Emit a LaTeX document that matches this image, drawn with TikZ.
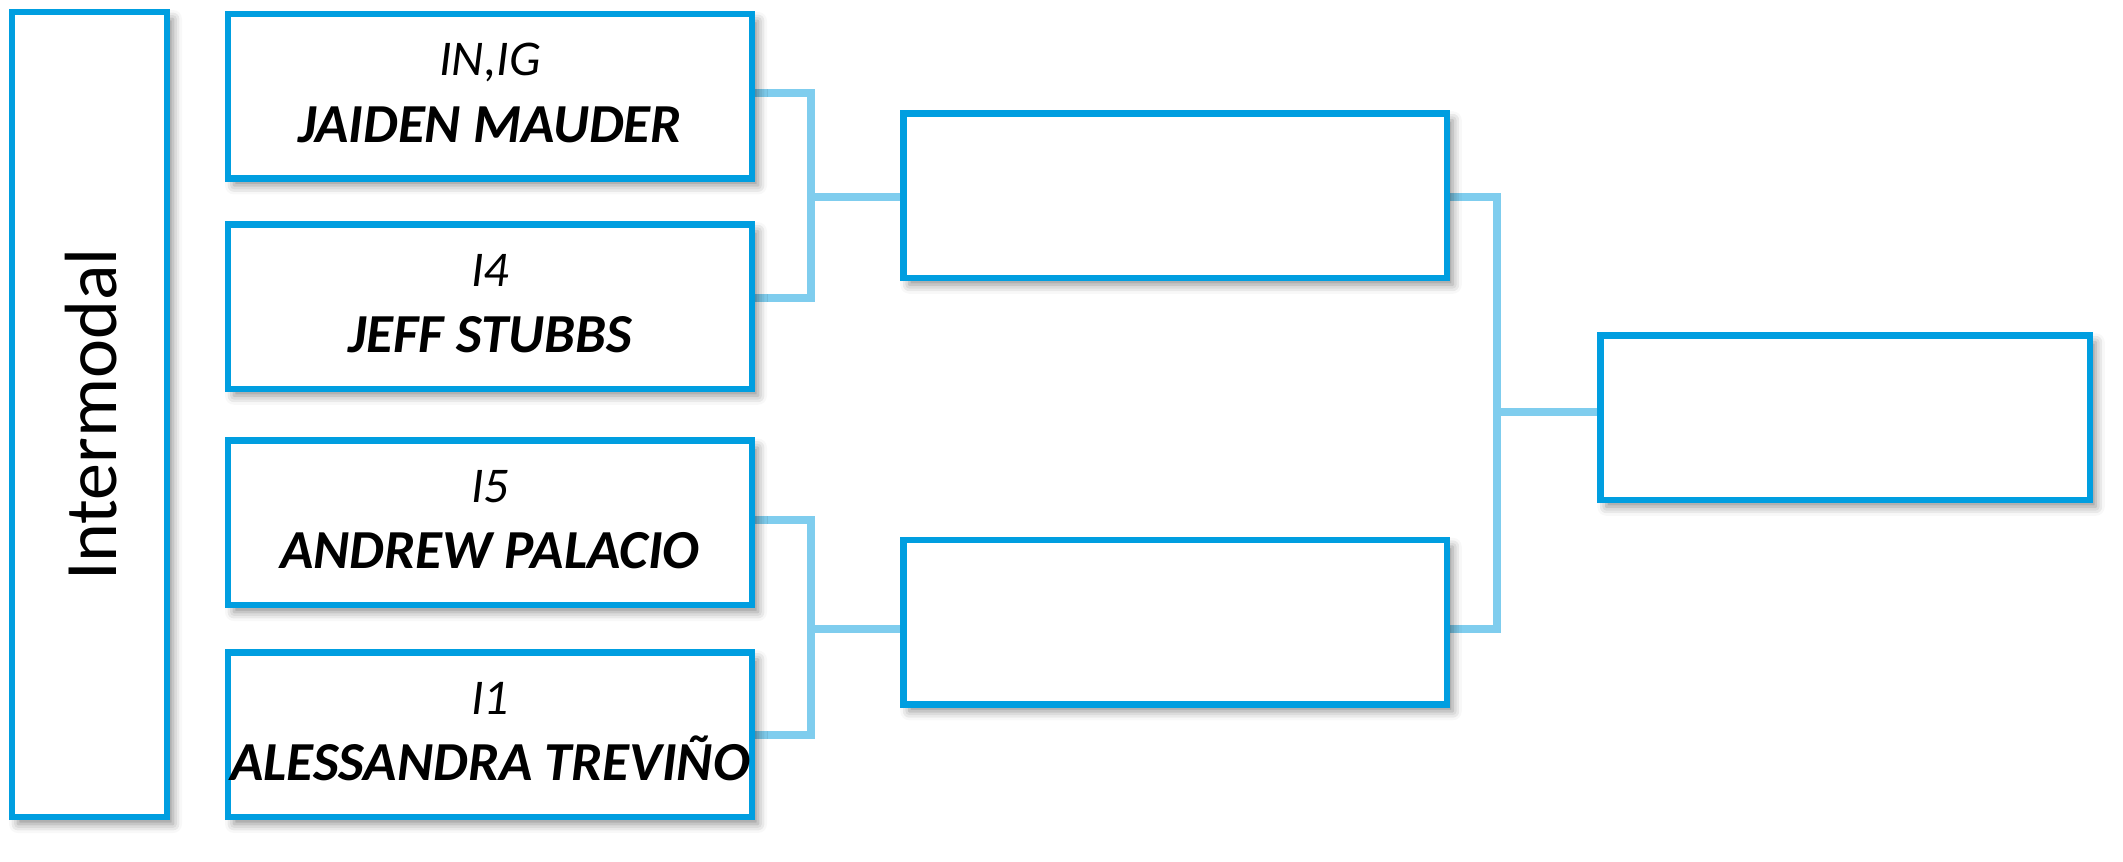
\documentclass[tikz,border=0pt]{standalone}
\usepackage{fontspec}
\setmainfont{Carlito}
\usetikzlibrary{shadows.blur,backgrounds}
\definecolor{boxblue}{RGB}{0,158,224}
\definecolor{connblue}{RGB}{127,205,238}
\begin{document}
\begin{tikzpicture}[x=1pt,y=-1pt,
  box/.style={draw=boxblue, line width=6.5pt, fill=white, rectangle, inner sep=0pt,
    blur shadow={shadow xshift=6pt, shadow yshift=-7pt, shadow blur radius=9pt, shadow opacity=45}},
  entry/.style={box, minimum width=524pt, minimum height=164.5pt},
  round2/.style={box, minimum width=543.5pt, minimum height=164.5pt},
  seedtxt/.style={anchor=base, inner sep=0pt, font=\fontsize{50}{60}\selectfont\itshape},
  nametxt/.style={anchor=base, inner sep=0pt, font=\fontsize{55}{66}\selectfont\bfseries\itshape},
  conn/.style={draw=connblue, line width=8pt}]
\useasboundingbox (0,0) rectangle (2123,862);
% left title box
\node[box, minimum width=155pt, minimum height=805pt] (I) at (89.5,414.5) {};
\node[rotate=90, font=\fontsize{74}{88}\selectfont, inner sep=0pt] (It) at ([xshift=1.5pt]I.center) {Intermodal};
% first round
\node[entry] (B1) at (490,96.2) {};
\node[entry] (B2) at (490,306.5) {};
\node[entry] (B3) at (490,522.8) {};
\node[entry] (B4) at (490,734.7) {};
\node[seedtxt] (s1) at ([yshift=-65pt]B1.north) {IN,IG};
\node[nametxt] (n1) at ([yshift=-131.5pt]B1.north) {JAIDEN MAUDER};
\node[seedtxt] (s2) at ([yshift=-65pt]B2.north) {I4};
\node[nametxt] (n2) at ([yshift=-131.5pt]B2.north) {JEFF STUBBS};
\node[seedtxt] (s3) at ([yshift=-65pt]B3.north) {I5};
\node[nametxt] (n3) at ([yshift=-131.5pt]B3.north) {ANDREW PALACIO};
\node[seedtxt] (s4) at ([yshift=-65pt]B4.north) {I1};
\node[nametxt] (n4) at ([yshift=-131.5pt]B4.north) {ALESSANDRA TREVIÑO};
% second round
\node[round2] (R1) at (1175,195.5) {};
\node[round2] (R2) at (1175,622) {};
% final
\node[box, minimum width=489.5pt, minimum height=164.5pt] (F) at (1845,417.5) {};
% connectors
\coordinate (j1) at (811,196.7);
\coordinate (j2) at (811,629);
\coordinate (j3) at (1497,412);
\begin{scope}[on background layer]
\draw[conn] ([yshift=3.5pt]B1.east) -| (j1) |- ([yshift=8.5pt]B2.east);
\draw[conn] (j1) -- (j1 -| R1.west);
\draw[conn] ([yshift=2.8pt]B3.east) -| (j2) |- (B4.east);
\draw[conn] (j2) -- (j2 -| R2.west);
\draw[conn] (j1 -| R1.east) -| (j3) |- (j2 -| R2.east);
\draw[conn] (j3) -- (j3 -| F.west);
\end{scope}
\end{tikzpicture}
\end{document}
